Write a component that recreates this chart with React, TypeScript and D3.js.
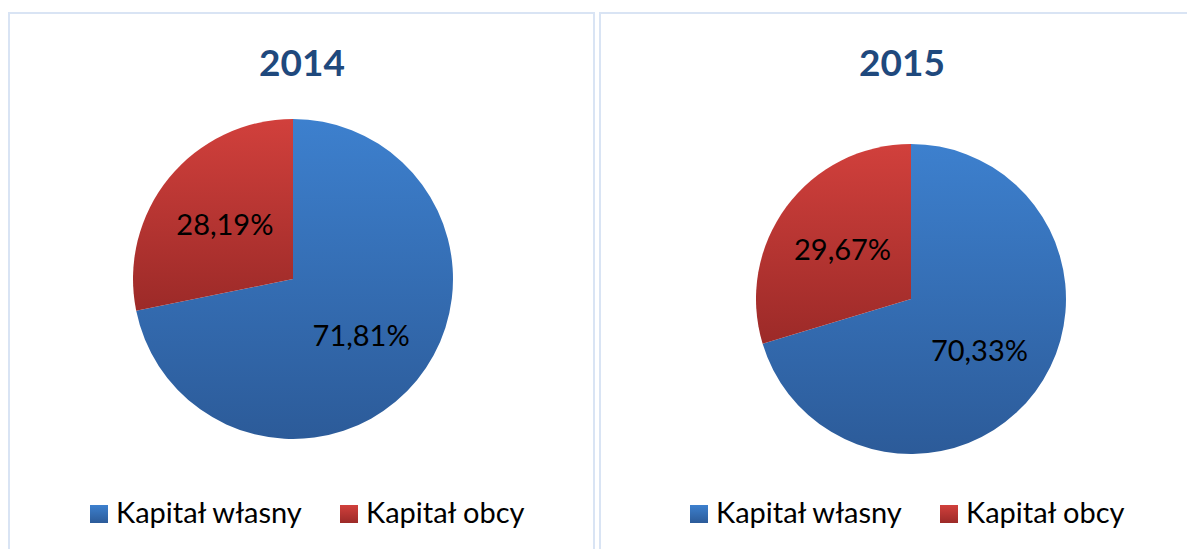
import React from "react";
import * as d3 from "d3";

const categories = ["Kapitał własny", "Kapitał obcy"];
const years = ["2014", "2015"];
const values2014 = [71.81, 28.19];
const values2015 = [70.33, 29.67];
const seriesByYear = [values2014, values2015];

const W = 1187;
const H = 549;

const panels = [
  { x: 9, w: 585, cx: 293, cy: 279, r: 160, titleX: 302, titleY: 76, legendX: 90 },
  { x: 600, w: 600, cx: 911, cy: 299, r: 155, titleX: 902, titleY: 76, legendX: 690 },
];

const fmt = (v: number) => v.toFixed(2).replace(".", ",") + "%";

export default function App() {
  const pie = d3.pie<number>().sort(null).value((d) => d);
  const font = "Lato, 'Open Sans', sans-serif";
  return (
    <svg width={W} height={H} style={{ position: "absolute", left: 0, top: 0, background: "#fff" }}>
      <defs>
        <linearGradient id="gBlue" x1="0" y1="0" x2="0" y2="1">
          <stop offset="0" stopColor="#3d80ce" />
          <stop offset="1" stopColor="#2c5b99" />
        </linearGradient>
        <linearGradient id="gRed" x1="0" y1="0" x2="0" y2="1">
          <stop offset="0" stopColor="#d1403c" />
          <stop offset="1" stopColor="#9c2a28" />
        </linearGradient>
      </defs>
      {panels.map((p, i) => {
        const arcs = pie(seriesByYear[i]);
        const arc = d3.arc<d3.PieArcDatum<number>>().innerRadius(0).outerRadius(p.r);
        const labelArc = d3.arc<d3.PieArcDatum<number>>().innerRadius(p.r * 1.05).outerRadius(p.r * 0.05);
        return (
          <g key={years[i]}>
            <rect x={p.x} y={13} width={p.w} height={H} fill="#fff" stroke="#d9e4f4" strokeWidth={2} />
            <text x={p.titleX} y={p.titleY} textAnchor="middle" fontFamily={font} fontWeight={700} fontSize={37} fill="#1f497d">
              {years[i]}
            </text>
            <g transform={`translate(${p.cx},${p.cy})`}>
              {arcs.map((a, j) => (
                <path key={j} d={arc(a) || ""} fill={j === 0 ? "url(#gBlue)" : "url(#gRed)"} />
              ))}
              {arcs.map((a, j) => {
                const [lx, ly] = labelArc.centroid(a);
                return (
                  <text key={"l" + j} x={lx} y={ly} textAnchor="middle" dominantBaseline="central" fontFamily={font} fontSize={29} fill="#000">
                    {fmt(a.data)}
                  </text>
                );
              })}
            </g>
            {categories.map((c, j) => (
              <g key={c} transform={`translate(${p.legendX + j * 250},504)`}>
                <rect x={0} y={1} width={18} height={18} fill={j === 0 ? "url(#gBlue)" : "url(#gRed)"} />
                <text x={26} y={19} fontFamily={font} fontSize={29} fill="#000">
                  {c}
                </text>
              </g>
            ))}
          </g>
        );
      })}
    </svg>
  );
}
